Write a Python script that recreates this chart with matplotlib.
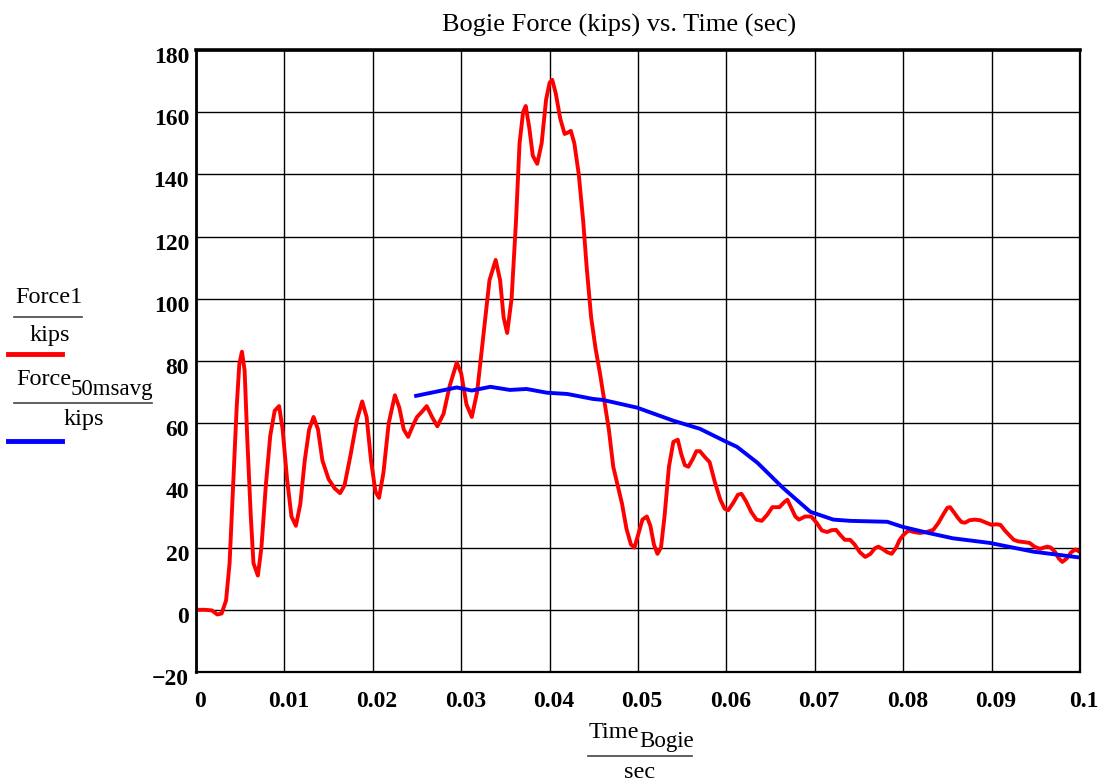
import matplotlib
matplotlib.use("Agg")
import matplotlib.pyplot as plt
from matplotlib.lines import Line2D
from matplotlib.transforms import ScaledTranslation

plt.rcParams['font.family'] = ['Liberation Serif', 'DejaVu Serif']

# Force1 (kips) vs time (sec)
t_force1 = [0.0000, 0.0010, 0.0018, 0.0024, 0.0029, 0.0034, 0.0038, 0.0042, 0.0046, 0.0049,
            0.0052, 0.0055, 0.0058, 0.0062, 0.0065, 0.0070, 0.0074, 0.0079, 0.0084, 0.0089,
            0.0094, 0.0098, 0.0103, 0.0108, 0.0113, 0.0118, 0.0123, 0.0128, 0.0133, 0.0138,
            0.0143, 0.0150, 0.0157, 0.0163, 0.0168, 0.0175, 0.0182, 0.0188, 0.0193, 0.0198,
            0.0203, 0.0207, 0.0212, 0.0218, 0.0225, 0.0230, 0.0235, 0.0240, 0.0245, 0.0250,
            0.0255, 0.0261, 0.0267, 0.0273, 0.0280, 0.0287, 0.0295, 0.0300, 0.0306, 0.0312,
            0.0318, 0.0325, 0.0332, 0.0339, 0.0344, 0.0348, 0.0352, 0.0357, 0.0362, 0.0366,
            0.0370, 0.0373, 0.0377, 0.0381, 0.0386, 0.0391, 0.0396, 0.0400, 0.0403, 0.0407,
            0.0412, 0.0417, 0.0421, 0.0424, 0.0428, 0.0433, 0.0438, 0.0442, 0.0447, 0.0452,
            0.0457, 0.0462, 0.0467, 0.0472, 0.0477, 0.0482, 0.0487, 0.0492, 0.0496, 0.0500,
            0.0505, 0.0510, 0.0514, 0.0518, 0.0522, 0.0526, 0.0530, 0.0535, 0.0540, 0.0545,
            0.0549, 0.0553, 0.0557, 0.0562, 0.0566, 0.0570, 0.0576, 0.0581, 0.0587, 0.0593,
            0.0598, 0.0602, 0.0608, 0.0613, 0.0617, 0.0622, 0.0628, 0.0634, 0.0640, 0.0646,
            0.0652, 0.0660, 0.0665, 0.0669, 0.0673, 0.0678, 0.0682, 0.0689, 0.0696, 0.0702,
            0.0708, 0.0714, 0.0719, 0.0724, 0.0729, 0.0734, 0.0740, 0.0745, 0.0751, 0.0757,
            0.0763, 0.0768, 0.0772, 0.0777, 0.0782, 0.0787, 0.0792, 0.0796, 0.0800, 0.0806,
            0.0812, 0.0819, 0.0826, 0.0834, 0.0840, 0.0846, 0.0850, 0.0853, 0.0857, 0.0862,
            0.0866, 0.0870, 0.0875, 0.0881, 0.0887, 0.0894, 0.0900, 0.0905, 0.0910, 0.0915,
            0.0920, 0.0925, 0.0930, 0.0936, 0.0943, 0.0949, 0.0955, 0.0959, 0.0963, 0.0967,
            0.0972, 0.0976, 0.0980, 0.0985, 0.0990, 0.0995, 0.1000]
force1 = [0, 0, -0.2, -1.5, -1.2, 3, 15, 40, 65, 79,
          83, 77, 55, 30, 15, 11, 20, 40, 56, 64,
          65.5, 58, 42, 30, 27, 34, 48, 58, 62, 58,
          48, 42, 39, 37.5, 40, 50, 61, 67, 62, 48,
          38, 36, 44, 60, 69, 65, 58, 55.6, 59, 62,
          63.5, 65.5, 62, 59, 63, 72, 79.5, 76, 66, 62,
          70, 88, 106, 112.5, 106, 94, 89, 100, 125, 150,
          160, 162, 155, 146, 143.4, 150, 164, 169.5, 170.4, 166,
          158, 153, 153.5, 154, 150, 140, 125, 110, 94, 84,
          76, 67, 58, 46, 40, 34, 26, 21, 20, 24,
          29, 30, 27, 21, 18, 20, 30, 46, 54, 54.7,
          50, 46.5, 46, 48.5, 51, 51, 49, 47.5, 41, 35.5,
          32.5, 32, 34.5, 37, 37.3, 35, 31.5, 29, 28.6, 30.5,
          33, 33, 34.5, 35.4, 33, 30, 29, 30, 30, 28,
          25.5, 25, 25.6, 25.7, 24, 22.5, 22.5, 21, 18.5, 17,
          18, 19.8, 20.3, 19.5, 18.5, 18, 20, 22.5, 24, 25.5,
          25, 24.7, 25, 25.7, 28, 31, 32.8, 33, 31.5, 29.5,
          28.2, 28, 28.8, 29, 28.8, 28, 27.3, 27.5, 27.3, 25.5,
          24, 22.5, 22, 21.8, 21.5, 20.2, 19.6, 20, 20.3, 20,
          18.5, 16.5, 15.4, 16.5, 18.5, 19.4, 18.6]

# 50 ms average force (kips)
t_avg = [0.0249, 0.0295, 0.0312, 0.0333, 0.0355, 0.0374, 0.0397, 0.0420, 0.0449, 0.0460,
         0.0499, 0.0540, 0.0570, 0.0600, 0.0612, 0.0635, 0.0664, 0.0695, 0.0721, 0.0740,
         0.0782, 0.0799, 0.0827, 0.0856, 0.0898, 0.0947, 0.1000]
force_avg = [68.8, 71.5, 70.5, 71.7, 70.7, 71.0, 69.8, 69.4, 67.8, 67.5,
             65.0, 60.8, 58.2, 54.0, 52.4, 47.3, 39.2, 31.5, 29.0, 28.6,
             28.3, 26.7, 24.8, 23.0, 21.5, 18.7, 16.8]

xticks = [0, 0.01, 0.02, 0.03, 0.04, 0.05, 0.06, 0.07, 0.08, 0.09, 0.1]
xlabels = ['0', '0.01', '0.02', '0.03', '0.04', '0.05', '0.06', '0.07', '0.08', '0.09', '0.1']
yticks = list(range(-20, 181, 20))

W, H = 1102, 784
fig = plt.figure(figsize=(W / 100, H / 100), dpi=100)
ax = fig.add_axes([196 / W, 1 - 672 / H, (1080 - 196) / W, (672 - 50) / H])

ax.plot(t_force1, force1, color='#ff0000', lw=2.8, solid_joinstyle='round')
ax.plot(t_avg, force_avg, color='#0000ff', lw=2.8, solid_joinstyle='round')

ax.set_xlim(0, 0.1)
ax.set_ylim(-20, 180)
ax.set_xticks(xticks)
ax.set_xticklabels(xlabels)
ax.set_yticks(yticks)
ax.set_yticklabels([str(v).replace('-', '\u2212') for v in yticks])
ax.tick_params(axis='both', length=0)
ax.tick_params(axis='x', pad=14)
ax.tick_params(axis='y', pad=5)
for lab in ax.get_xticklabels():
    lab.set_fontweight('bold')
    lab.set_fontsize(17)
    lab.set_transform(lab.get_transform() + ScaledTranslation(4 / 100, 0, fig.dpi_scale_trans))
for lab in ax.get_yticklabels():
    lab.set_fontweight('bold')
    lab.set_fontsize(17)
    lab.set_transform(lab.get_transform() + ScaledTranslation(0, -5 / 100, fig.dpi_scale_trans))
ax.grid(True, color='black', lw=1)
for s in ax.spines.values():
    s.set_linewidth(1.6)
ax.spines['top'].set_linewidth(2.6)
ax.spines['left'].set_linewidth(2.0)


def px(x, y):
    return x / W, 1 - y / H


fig.text(*px(619, 25), 'Bogie Force (kips) vs. Time (sec)', fontsize=19, ha='center', va='center')

# legend on the left, Mathcad style
fs = 17.5
fig.text(*px(49, 298), 'Force1', fontsize=fs, ha='center', va='center')
fig.add_artist(Line2D([14 / W, 82 / W], [1 - 317 / H] * 2, color='#444444', lw=1.2))
fig.text(*px(50, 335), 'kips', fontsize=fs, ha='center', va='center')
fig.add_artist(Line2D([8 / W, 62 / W], [1 - 354 / H] * 2, color='#ff0000', lw=3.5))

fig.text(*px(16, 380), 'Force', fontsize=fs, ha='left', va='center')
fig.text(*px(71, 389), '50msavg', fontsize=16.5, ha='left', va='center')
fig.add_artist(Line2D([14 / W, 152 / W], [1 - 403 / H] * 2, color='#444444', lw=1.2))
fig.text(*px(84, 420), 'kips', fontsize=fs, ha='center', va='center')
fig.add_artist(Line2D([8 / W, 62 / W], [1 - 441 / H] * 2, color='#0000ff', lw=3.5))

# x axis label as a fraction
fig.text(*px(589, 732), 'Time', fontsize=fs, ha='left', va='center')
fig.text(*px(639, 741), 'Bogie', fontsize=16.5, ha='left', va='center')
fig.add_artist(Line2D([588 / W, 692 / W], [1 - 756 / H] * 2, color='#444444', lw=1.2))
fig.text(*px(640, 772), 'sec', fontsize=fs, ha='center', va='center')

fig.savefig('out.png', dpi=100)
